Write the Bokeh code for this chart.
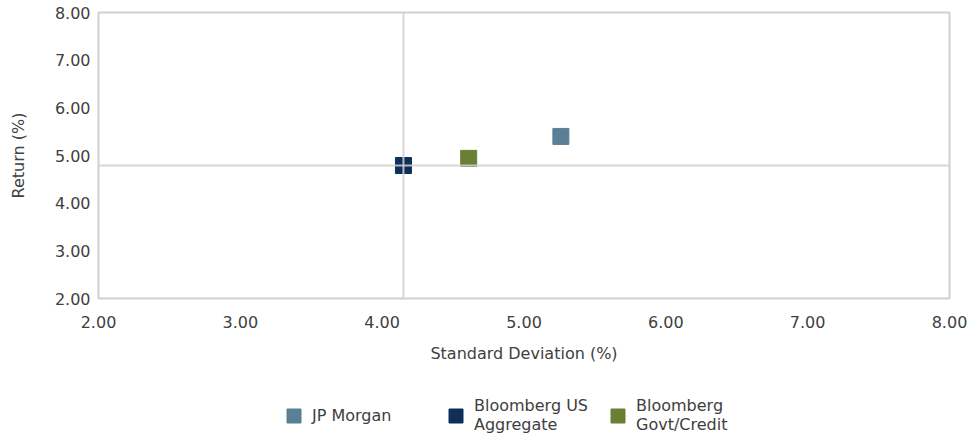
from bokeh.plotting import figure
from bokeh.layouts import column
from bokeh.models import Span, Legend, LegendItem, FixedTicker, NumeralTickFormatter, Range1d
from bokeh.embed import file_html
from bokeh.resources import INLINE

names = ["JP Morgan", "Bloomberg US\nAggregate", "Bloomberg\nGovt/Credit"]
std_dev = [5.26, 4.15, 4.61]
returns = [5.40, 4.79, 4.94]
colors = ["#5A7F96", "#0E3058", "#6A7F36"]
x_ticks = [2, 3, 4, 5, 6, 7, 8]
y_ticks = [2, 3, 4, 5, 6, 7, 8]
bench_x = std_dev[1]
bench_y = returns[1]

FONT = "DejaVu Sans"
TXT = "#404040"
GRID = "#D0D0D0"

p = figure(width=972, height=365, output_backend="svg", toolbar_location=None,
           x_range=Range1d(2, 8), y_range=Range1d(2, 8),
           min_border_left=98, min_border_right=23, min_border_top=12, min_border_bottom=67)
p.xgrid.grid_line_color = None
p.ygrid.grid_line_color = None
p.outline_line_color = GRID
p.outline_line_width = 2
p.background_fill_color = "white"
p.border_fill_color = "white"

for ax in (p.xaxis[0], p.yaxis[0]):
    ax.axis_line_color = None
    ax.major_tick_line_color = None
    ax.minor_tick_line_color = None
    ax.major_tick_out = 0
    ax.major_tick_in = 0
    ax.major_label_text_font = FONT
    ax.major_label_text_font_size = "16px"
    ax.major_label_text_color = TXT
    ax.axis_label_text_font = FONT
    ax.axis_label_text_font_size = "16px"
    ax.axis_label_text_font_style = "normal"
    ax.axis_label_text_color = TXT
    ax.formatter = NumeralTickFormatter(format="0.00")

p.xaxis.ticker = FixedTicker(ticks=x_ticks)
p.yaxis.ticker = FixedTicker(ticks=y_ticks)
p.xaxis.axis_label = "Standard Deviation (%)"
p.yaxis.axis_label = "Return (%)"
p.xaxis.major_label_standoff = 17
p.xaxis.axis_label_standoff = 13
p.yaxis.major_label_standoff = 8
p.yaxis.axis_label_standoff = 24

for i in range(len(names)):
    p.scatter([std_dev[i]], [returns[i]], marker="square", size=16,
              fill_color=colors[i], line_color=colors[i])

vline = Span(location=bench_x, dimension="height", line_color=GRID, line_width=2, line_alpha=0.85, level="overlay")
hline = Span(location=bench_y, dimension="width", line_color=GRID, line_width=2, line_alpha=0.85, level="overlay")
p.add_layout(vline)
p.add_layout(hline)

# legend strip below the chart (its glyphs sit outside the strip's visible range)
lg = figure(width=972, height=76, output_backend="svg", toolbar_location=None,
            x_range=Range1d(0, 1), y_range=Range1d(0, 1),
            min_border_left=0, min_border_right=0, min_border_top=0, min_border_bottom=0)
lg.axis.visible = False
lg.grid.grid_line_color = None
lg.outline_line_color = None
lg.background_fill_color = "white"
lg.border_fill_color = "white"

items = []
for i in range(len(names)):
    r = lg.scatter([std_dev[i]], [returns[i]], marker="square", size=16,
                   fill_color=colors[i], line_color=colors[i])
    items.append(LegendItem(label=names[i], renderers=[r]))

legend = Legend(items=items, orientation="horizontal", location=(178, 7),
                glyph_width=35, glyph_height=35, label_standoff=1, label_width=120,
                spacing=6, padding=0, margin=0, border_line_color=None, background_fill_alpha=0,
                label_text_font=FONT, label_text_font_size="16px", label_text_color=TXT)
lg.add_layout(legend, "center")

open("out.html", "w").write(file_html(column(p, lg, spacing=0), INLINE))
